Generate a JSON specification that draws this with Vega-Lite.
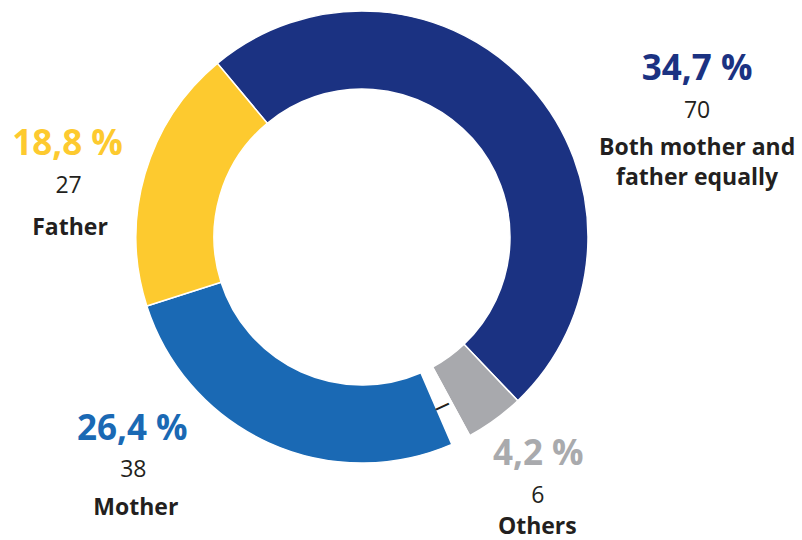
{
  "$schema": "https://vega.github.io/schema/vega-lite/v6.json",
  "autosize": {"type": "none"},
  "width": 724,
  "height": 474,
  "padding": {"left": 0, "top": 0, "right": 78, "bottom": 66},
  "background": "white",
  "config": {"view": {"stroke": null}},
  "data": {
    "values": [
      {"cat": "Both mother and father equally", "n": 70, "pct": "34,7 %", "label": ["Both mother and", "father equally"], "ord": 1},
      {"cat": "Others", "n": 6, "pct": "4,2 %", "label": "Others", "ord": 2},
      {"cat": "No answer", "n": 2, "pct": "", "label": "", "ord": 3},
      {"cat": "Mother", "n": 38, "pct": "26,4 %", "label": "Mother", "ord": 4},
      {"cat": "Father", "n": 27, "pct": "18,8 %", "label": "Father", "ord": 5}
    ]
  },
  "encoding": {
    "theta": {"field": "n", "type": "quantitative", "stack": true, "scale": {"range": [5.5886, 11.8718]}},
    "order": {"field": "ord", "type": "quantitative"}
  },
  "layer": [
    {
      "mark": {"type": "arc", "outerRadius": 226, "innerRadius": 148, "stroke": "white", "strokeWidth": 1.5},
      "encoding": {
        "color": {
          "field": "cat", "type": "nominal", "legend": null,
          "scale": {
            "domain": ["Both mother and father equally", "Others", "No answer", "Mother", "Father"],
            "range": ["#1b3282", "#a8a9ad", "#ffffff", "#1a69b4", "#fdca2f"]
          }
        }
      }
    },
    {
      "mark": {"type": "text", "radius": 187, "dx": -2, "dy": 0, "angle": 335, "font": "DejaVu Sans", "fontSize": 16, "fontWeight": "bold", "align": "center", "baseline": "middle", "color": "#231f20"},
      "encoding": {"text": {"condition": {"test": "datum.cat === 'No answer'", "value": "—"}, "value": ""}}
    },
    {
      "mark": {"type": "text", "radius": 250, "dx": 148.4, "dy": 9.3, "font": "Open Sans", "fontSize": 35, "fontWeight": "bold", "align": "center", "baseline": "alphabetic", "color": "#1b3282"},
      "encoding": {"text": {"condition": {"test": "datum.cat === 'Both mother and father equally'", "field": "pct"}, "value": ""}}
    },
    {
      "mark": {"type": "text", "radius": 250, "dx": 148.4, "dy": 47.3, "font": "Open Sans", "fontSize": 23, "align": "center", "baseline": "alphabetic", "color": "#231f20"},
      "encoding": {"text": {"condition": {"test": "datum.cat === 'Both mother and father equally'", "field": "n", "type": "quantitative", "format": "d"}, "value": ""}}
    },
    {
      "mark": {"type": "text", "radius": 250, "dx": 148.4, "dy": 84.3, "lineHeight": 30, "font": "Open Sans", "fontSize": 23, "fontWeight": "bold", "align": "center", "baseline": "alphabetic", "color": "#231f20"},
      "encoding": {"text": {"condition": {"test": "datum.cat === 'Both mother and father equally'", "field": "label"}, "value": ""}}
    },
    {
      "mark": {"type": "text", "radius": 250, "dx": 29.3, "dy": 25.9, "font": "Open Sans", "fontSize": 35, "fontWeight": "bold", "align": "center", "baseline": "alphabetic", "color": "#a9aaad"},
      "encoding": {"text": {"condition": {"test": "datum.cat === 'Others'", "field": "pct"}, "value": ""}}
    },
    {
      "mark": {"type": "text", "radius": 250, "dx": 28.8, "dy": 63.9, "font": "Open Sans", "fontSize": 23, "align": "center", "baseline": "alphabetic", "color": "#231f20"},
      "encoding": {"text": {"condition": {"test": "datum.cat === 'Others'", "field": "n", "type": "quantitative", "format": "d"}, "value": ""}}
    },
    {
      "mark": {"type": "text", "radius": 250, "dx": 28.3, "dy": 95, "font": "Open Sans", "fontSize": 23, "fontWeight": "bold", "align": "center", "baseline": "alphabetic", "color": "#231f20"},
      "encoding": {"text": {"condition": {"test": "datum.cat === 'Others'", "field": "label"}, "value": ""}}
    },
    {
      "mark": {"type": "text", "radius": 250, "dx": -126.4, "dy": -24.8, "font": "Open Sans", "fontSize": 35, "fontWeight": "bold", "align": "center", "baseline": "alphabetic", "color": "#1a69b4"},
      "encoding": {"text": {"condition": {"test": "datum.cat === 'Mother'", "field": "pct"}, "value": ""}}
    },
    {
      "mark": {"type": "text", "radius": 250, "dx": -125.4, "dy": 11.9, "font": "Open Sans", "fontSize": 23, "align": "center", "baseline": "alphabetic", "color": "#231f20"},
      "encoding": {"text": {"condition": {"test": "datum.cat === 'Mother'", "field": "n", "type": "quantitative", "format": "d"}, "value": ""}}
    },
    {
      "mark": {"type": "text", "radius": 250, "dx": -122.9, "dy": 50.2, "font": "Open Sans", "fontSize": 23, "fontWeight": "bold", "align": "center", "baseline": "alphabetic", "color": "#231f20"},
      "encoding": {"text": {"condition": {"test": "datum.cat === 'Mother'", "field": "label"}, "value": ""}}
    },
    {
      "mark": {"type": "text", "radius": 250, "dx": -54.4, "dy": -12.2, "font": "Open Sans", "fontSize": 35, "fontWeight": "bold", "align": "center", "baseline": "alphabetic", "color": "#fdca2f"},
      "encoding": {"text": {"condition": {"test": "datum.cat === 'Father'", "field": "pct"}, "value": ""}}
    },
    {
      "mark": {"type": "text", "radius": 250, "dx": -53.4, "dy": 26.1, "font": "Open Sans", "fontSize": 23, "align": "center", "baseline": "alphabetic", "color": "#231f20"},
      "encoding": {"text": {"condition": {"test": "datum.cat === 'Father'", "field": "n", "type": "quantitative", "format": "d"}, "value": ""}}
    },
    {
      "mark": {"type": "text", "radius": 250, "dx": -51.9, "dy": 67.8, "font": "Open Sans", "fontSize": 23, "fontWeight": "bold", "align": "center", "baseline": "alphabetic", "color": "#231f20"},
      "encoding": {"text": {"condition": {"test": "datum.cat === 'Father'", "field": "label"}, "value": ""}}
    }
  ]
}
